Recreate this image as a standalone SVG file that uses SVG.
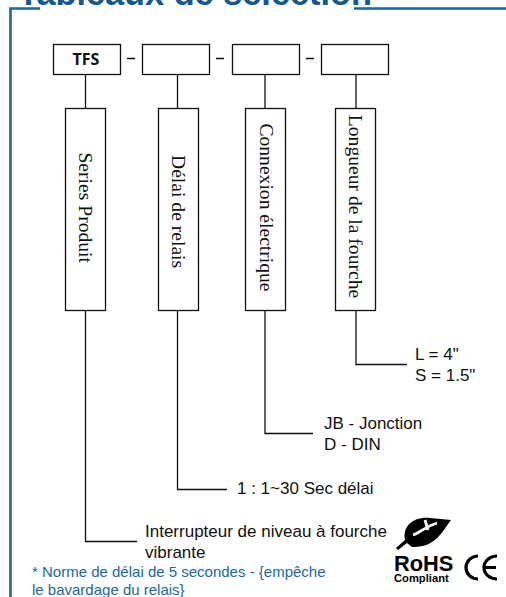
<svg xmlns="http://www.w3.org/2000/svg" width="506" height="597" viewBox="0 0 506 597">
<style>
.b{fill:#fff;stroke:#111;stroke-width:1.3}
.c{fill:none;stroke:#111;stroke-width:1.3}
.s{font-family:"Liberation Serif",serif;font-size:19.600px;fill:#111;text-anchor:middle}
.l{font-family:"Liberation Sans",Arial,sans-serif;font-size:17px;fill:#111}
.n{font-family:"Liberation Sans",Arial,sans-serif;font-size:15px;fill:#1a6a9a}
</style>
<rect width="506" height="597" fill="#fff"/>
<g id="frame">
<text x="18" y="5" font-family="'Liberation Sans',Arial,sans-serif" font-weight="700" font-size="34.300px" fill="#11598f">Tableaux de sélection</text>
<path d="M40 8.500H10.500V597M354 8.500H506" fill="none" stroke="#1d6498" stroke-width="2.600"/>
</g>
<g id="connectors">
<path class="c" d="M85.500 74V108M177.500 74V108M265 74V108M356 74V108"/>
<path class="c" d="M85.500 310V541.500H137M177.500 310V489.500H227M265 310V433.500H313M356 310V364.500H407"/>
<path class="c" d="M127 58.500H135M216 58.500H224M306 58.500H314"/>
</g>
<g id="n-tfs"><rect class="b" x="53.500" y="44.500" width="67" height="30"/><text x="86" y="65" font-family="'Open Sans','Liberation Sans',sans-serif" font-weight="700" font-size="16px" fill="#111" text-anchor="middle">TFS</text></g>
<g id="n-box2"><rect class="b" x="142.500" y="44.500" width="67" height="30"/></g>
<g id="n-box3"><rect class="b" x="232.500" y="44.500" width="67" height="30"/></g>
<g id="n-box4"><rect class="b" x="321.500" y="44.500" width="67" height="30"/></g>
<g id="n-series"><rect class="b" x="65.500" y="108.500" width="40" height="202"/><text class="s" transform="translate(79 207.700) rotate(90)">Series Produit</text></g>
<g id="n-delai"><rect class="b" x="158.500" y="108.500" width="40" height="202"/><text class="s" transform="translate(172 211.600) rotate(90)">Délai de relais</text></g>
<g id="n-connexion"><rect class="b" x="245.500" y="108.500" width="40" height="202"/><text class="s" transform="translate(260 207.500) rotate(90)">Connexion électrique</text></g>
<g id="n-longueur"><rect class="b" x="335.500" y="108.500" width="40" height="202"/><text class="s" transform="translate(349 206.500) rotate(90)">Longueur de la fourche</text></g>
<g id="l-longueur"><text class="l" x="415" y="360">L = 4"</text><text class="l" x="415" y="380.500">S = 1.5"</text></g>
<g id="l-connexion"><text class="l" x="324" y="428.500">JB - Jonction</text><text class="l" x="324" y="450">D - DIN</text></g>
<g id="l-delai"><text class="l" x="237" y="494">1 : 1~30 Sec délai</text></g>
<g id="l-series"><text class="l" x="145" y="537">Interrupteur de niveau à fourche</text><text class="l" x="145" y="557.500">vibrante</text></g>
<g id="note"><text class="n" x="32" y="577">* Norme de délai de 5 secondes  - {empêche</text><text class="n" x="32" y="595">le bavardage du relais}</text></g>
<g id="rohs">
<path d="M396 548L405 540C402 525 415 516 430 518L451 520C442 532 435 548 412 547L407 543L398 550Z" fill="#000"/>
<path d="M413 535C420 533 424 527 437 523M425 520L428 530" fill="none" stroke="#fff" stroke-width="2.800"/>
<text x="394" y="571" font-family="'Liberation Sans',sans-serif" font-weight="700" font-size="21.800px" fill="#000">RoHS</text>
<text x="394" y="582" font-family="'Liberation Sans',sans-serif" font-weight="700" font-size="11.200px" fill="#000">Compliant</text>
</g>
<g id="ce" fill="none" stroke="#000" stroke-width="3.200">
<path d="M478 556A12 11.500 0 0 0 478 579"/>
<path d="M497 556A13 11.500 0 0 0 497 579M484 567.500H496"/>
</g>
</svg>
